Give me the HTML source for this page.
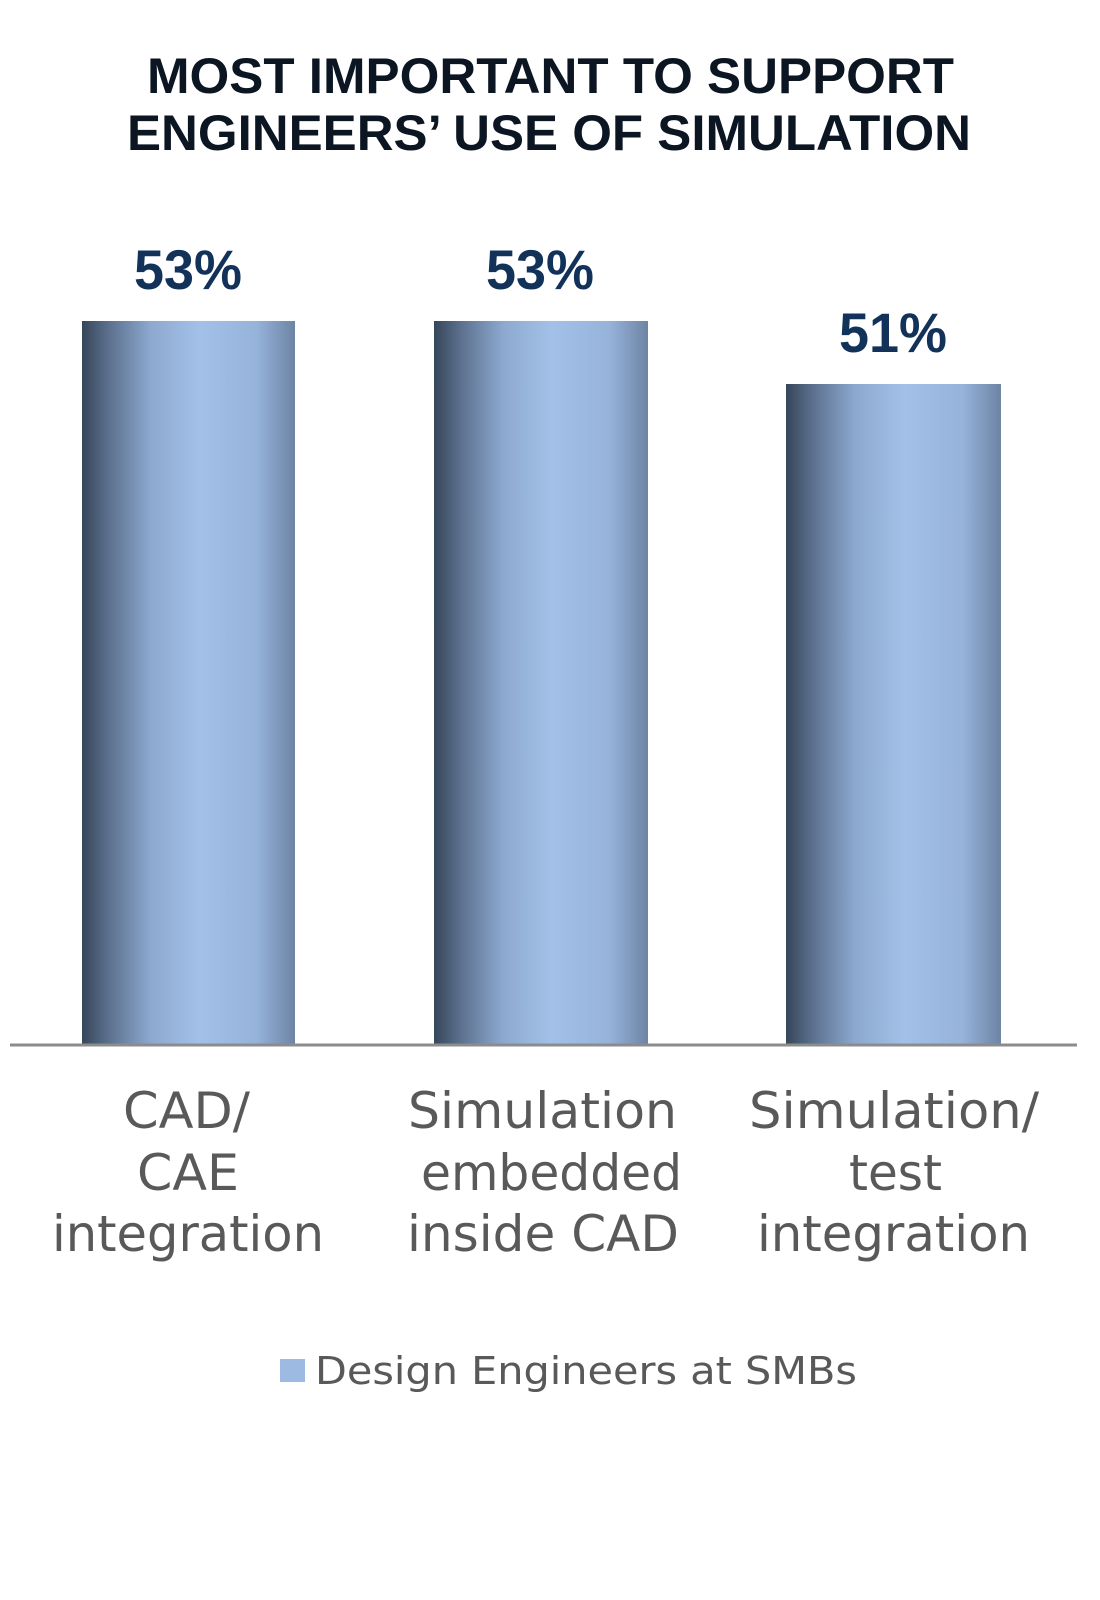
<!DOCTYPE html>
<html><head><style>html,body{margin:0;padding:0;background:#fff}</style></head>
<body>
<svg width="1100" height="1595" viewBox="0 0 1100 1595" xmlns="http://www.w3.org/2000/svg">
<defs>
<linearGradient id="g" x1="0" x2="1" y1="0" y2="0">
<stop offset="0" stop-color="#36465a"/>
<stop offset="0.12" stop-color="#5a6f8c"/>
<stop offset="0.32" stop-color="#8ca8cf"/>
<stop offset="0.55" stop-color="#a3c1e8"/>
<stop offset="0.82" stop-color="#96b3da"/>
<stop offset="1" stop-color="#6d84a4"/>
</linearGradient>
</defs>
<g font-family="Liberation Sans, Arial, sans-serif" font-weight="bold" fill="#0b1622" font-size="50">
<text x="147" y="93" textLength="807" lengthAdjust="spacingAndGlyphs">MOST IMPORTANT TO SUPPORT</text>
<text x="127" y="150" textLength="844" lengthAdjust="spacingAndGlyphs">ENGINEERS’ USE OF SIMULATION</text>
</g>
<rect x="82" y="321" width="213" height="723" fill="url(#g)"/>
<rect x="434" y="321" width="214" height="723" fill="url(#g)"/>
<rect x="786" y="384" width="215" height="660" fill="url(#g)"/>
<line x1="10" y1="1045" x2="1077" y2="1045" stroke="#8c8c8c" stroke-width="3"/>
<g font-family="Liberation Sans, Arial, sans-serif" font-weight="bold" fill="#13325a" font-size="56">
<text x="134" y="289" textLength="108" lengthAdjust="spacingAndGlyphs">53%</text>
<text x="486" y="289" textLength="108" lengthAdjust="spacingAndGlyphs">53%</text>
<text x="839" y="352" textLength="108" lengthAdjust="spacingAndGlyphs">51%</text>
</g>
<g font-family="DejaVu Sans, Verdana, sans-serif" fill="#595959" font-size="50">
<text x="123" y="1128" textLength="127" lengthAdjust="spacingAndGlyphs">CAD/</text>
<text x="137" y="1190" textLength="102" lengthAdjust="spacingAndGlyphs">CAE</text>
<text x="52" y="1251" textLength="272" lengthAdjust="spacingAndGlyphs">integration</text>
<text x="408" y="1128" textLength="269" lengthAdjust="spacingAndGlyphs">Simulation</text>
<text x="421" y="1190" textLength="261" lengthAdjust="spacingAndGlyphs">embedded</text>
<text x="407" y="1251" textLength="272" lengthAdjust="spacingAndGlyphs">inside CAD</text>
<text x="749" y="1128" textLength="290" lengthAdjust="spacingAndGlyphs">Simulation/</text>
<text x="849" y="1190" textLength="93" lengthAdjust="spacingAndGlyphs">test</text>
<text x="757" y="1251" textLength="273" lengthAdjust="spacingAndGlyphs">integration</text>
</g>
<rect x="280" y="1359" width="25" height="23" fill="#9dbbe2"/>
<text x="315" y="1384" font-family="DejaVu Sans, Verdana, sans-serif" font-size="38" fill="#595959" textLength="542" lengthAdjust="spacingAndGlyphs">Design Engineers at SMBs</text>
</svg>
</body></html>
